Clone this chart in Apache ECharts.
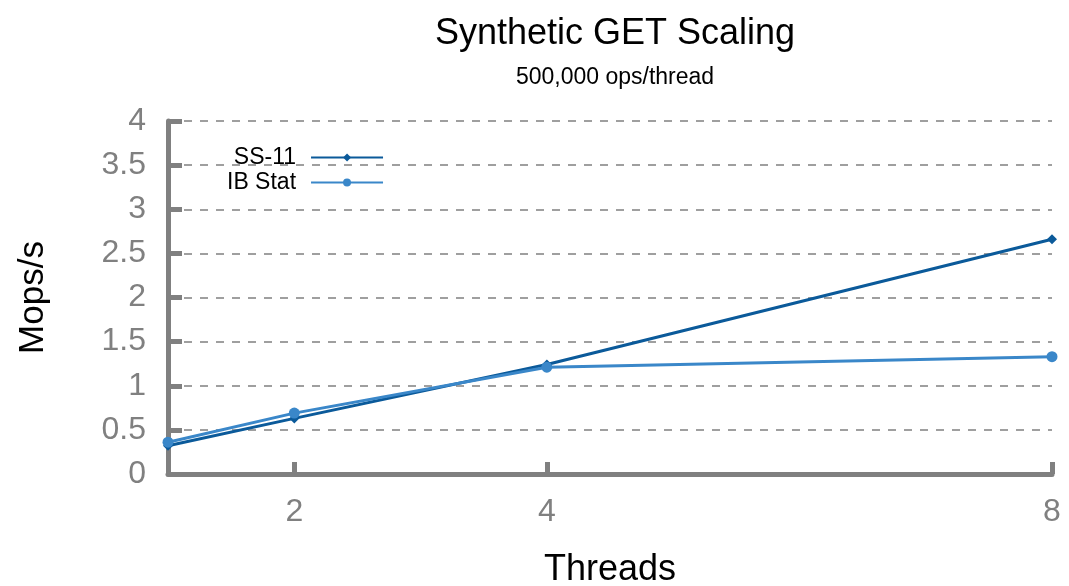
<!DOCTYPE html>
<html>
<head>
<meta charset="utf-8">
<script src="https://cdn.jsdelivr.net/npm/echarts@6/dist/echarts.min.js"></script>
<style>html,body{margin:0;padding:0;background:#fff;}#c{width:1069px;height:586px;}</style>
</head>
<body>
<div id="c"></div>
<script>
const threads = [1, 2, 4, 8];
const xTickLabels = [2, 4, 8];
const ss11 = [0.32, 0.63, 1.24, 2.66];
const ibStat = [0.36, 0.69, 1.21, 1.33];
const seriesNames = ['SS-11', 'IB Stat'];

const font = '"Liberation Sans", Arial, Helvetica, sans-serif';
const grey = '#808080';
const chart = echarts.init(document.getElementById('c'), null, {renderer: 'canvas'});
chart.setOption({
  animation: false,
  backgroundColor: '#fff',
  title: [
    {text: 'Synthetic GET Scaling', left: 610, top: 11, textAlign: 'center',
     textStyle: {fontFamily: font, fontSize: 36, fontWeight: 'normal', color: '#000'}},
    {text: '500,000 ops/thread', left: 610, top: 61, textAlign: 'center',
     textStyle: {fontFamily: font, fontSize: 23, fontWeight: 'normal', color: '#000'}}
  ],
  legend: {
    orient: 'vertical', left: 222, top: 141, align: 'right',
    itemWidth: 72, itemHeight: 10, itemGap: 2,
    textStyle: {fontFamily: font, fontSize: 23, color: '#000', padding: [0, 10, 0, 0]},
    data: seriesNames
  },
  grid: {left: 168, right: 17, top: 121, bottom: 112, containLabel: false, outerBoundsMode: 'none'},
  xAxis: {
    type: 'value', min: 1, max: 8,
    name: 'Threads', nameLocation: 'middle', nameGap: 78,
    nameTextStyle: {fontFamily: font, fontSize: 36, color: '#000'},
    axisLine: {show: true, lineStyle: {color: grey, width: 5}},
    axisTick: {show: true, inside: true, length: 12, customValues: xTickLabels,
      lineStyle: {color: grey, width: 5}},
    axisLabel: {customValues: xTickLabels, fontFamily: font, fontSize: 32, color: grey, margin: 22},
    splitLine: {show: false}
  },
  yAxis: {
    type: 'value', min: 0, max: 4, interval: 0.5,
    name: 'Mops/s', nameLocation: 'middle', nameGap: 117, nameRotate: 90,
    nameTextStyle: {fontFamily: font, fontSize: 35, color: '#000'},
    axisLine: {show: true, lineStyle: {color: grey, width: 5}},
    axisTick: {show: true, inside: true, length: 14, lineStyle: {color: grey, width: 5}},
    axisLabel: {fontFamily: font, fontSize: 32, color: grey, margin: 22},
    splitLine: {show: true, lineStyle: {color: grey, width: 1.5, type: [8, 8]}}
  },
  series: [
    {name: seriesNames[0], type: 'line', data: threads.map((t, i) => [t, ss11[i]]),
     color: '#0b5a9a', symbol: 'diamond', symbolSize: 10, showSymbol: true,
     lineStyle: {width: 3}, z: 2},
    {name: seriesNames[1], type: 'line', data: threads.map((t, i) => [t, ibStat[i]]),
     color: '#3a87c9', symbol: 'circle', symbolSize: 11, showSymbol: true,
     lineStyle: {width: 3}, z: 3}
  ]
});
</script>
</body>
</html>
